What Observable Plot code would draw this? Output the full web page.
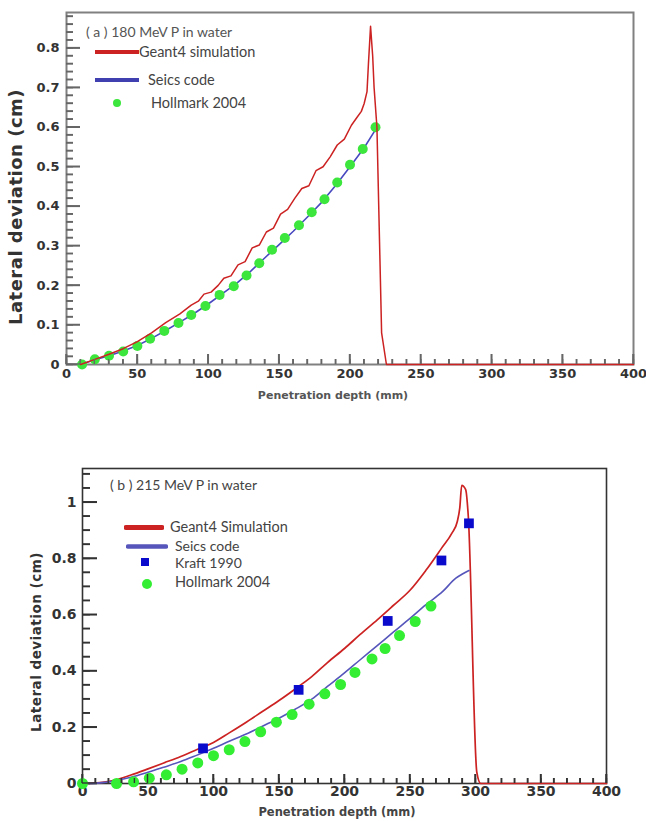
<!DOCTYPE html>
<html><head><meta charset="utf-8">
<script src="https://cdn.jsdelivr.net/npm/d3@7"></script>
<script src="https://cdn.jsdelivr.net/npm/@observablehq/plot@0.6"></script>
<style>
body{margin:0;background:#fff;width:646px;height:821px;position:relative;overflow:hidden}
.panel{position:absolute;left:0}
.lab{position:absolute;font-family:"DejaVu Sans";font-weight:bold;white-space:nowrap;line-height:1}
.leg{position:absolute;font-family:Lato;color:#444;white-space:nowrap;line-height:1;transform:translateY(-50%)}
.sw{position:absolute;line-height:0}
.sw svg{display:block}
</style></head><body>
<div id="a" class="panel" style="top:0"></div>
<div id="b" class="panel" style="top:420px"></div>
<script>
// ---------- Panel (a): 180 MeV P in water ----------
const geantA_x = [10,20,30,40,50,60,70,80,88,93,97,102,107,111,116,121,126,131,136,141,146,151,156,161,166,171,176,181,186,191,196,201,205,208,210,212,213,214.5,216,217,219,222.3,225.7,400];
const geantA_y = [0,0.013,0.026,0.04,0.058,0.08,0.106,0.128,0.15,0.16,0.178,0.183,0.2,0.218,0.224,0.252,0.26,0.295,0.302,0.335,0.345,0.38,0.392,0.42,0.445,0.452,0.49,0.5,0.525,0.555,0.57,0.605,0.625,0.64,0.66,0.69,0.76,0.855,0.78,0.7,0.6,0.08,0,0];
const seicsA_x = [10,20,30,40,50,60,70,80,90,100,110,120,130,140,150,160,170,180,190,200,210,218];
const seicsA_y = [0,0.012,0.022,0.034,0.048,0.066,0.086,0.107,0.129,0.153,0.179,0.205,0.236,0.27,0.303,0.337,0.373,0.41,0.453,0.5,0.548,0.594];
const hollA_x = [11,20,30,40,50,59,69,79,88,98,108,118,127,136,145,154,164,173,182,191,200,209,218];
const hollA_y = [0,0.013,0.022,0.033,0.047,0.065,0.085,0.105,0.125,0.148,0.176,0.198,0.225,0.256,0.29,0.32,0.352,0.385,0.418,0.46,0.505,0.545,0.6];
const yTicksA = [0,0.1,0.2,0.3,0.4,0.5,0.6,0.7,0.8];
const yLabelsA = ["0","0.1","0.2","0.3","0.4","0.5","0.6","0.7","0.8"];

// ---------- Panel (b): 215 MeV P in water ----------
const geantB_x = [5,15,25,37,50,62,75,87,100,112,125,137,150,165,175,187,200,212,225,237,250,262,274,282,286,288,289.5,292.5,294.5,301,304,400];
const geantB_y = [0,0.004,0.012,0.03,0.052,0.073,0.096,0.12,0.146,0.18,0.218,0.255,0.295,0.345,0.38,0.43,0.48,0.53,0.582,0.632,0.687,0.757,0.836,0.89,0.93,0.98,1.06,1.045,0.95,0.04,0,0];
const seicsB_x = [5,15,25,37,50,62,75,87,100,112,125,137,150,162,175,187,200,212,225,237,250,262,275,285,290,295];
const seicsB_y = [0,0.003,0.01,0.022,0.04,0.058,0.078,0.1,0.125,0.15,0.176,0.203,0.232,0.263,0.3,0.345,0.393,0.44,0.49,0.537,0.587,0.635,0.683,0.73,0.745,0.757];
const kraftB_x = [92,165,233,274,295];
const kraftB_y = [0.125,0.333,0.578,0.793,0.925];
const hollB_x = [0,26,39,51,64,76,88,100,112,124,136,148,160,173,185,197,208,221,231,242,254,266];
const hollB_y = [0,0,0.006,0.019,0.031,0.051,0.073,0.099,0.12,0.149,0.184,0.218,0.245,0.282,0.319,0.352,0.395,0.443,0.48,0.526,0.576,0.631];
const yTicksB = [0,0.2,0.4,0.6,0.8,1];
const yLabelsB = ["0","0.2","0.4","0.6","0.8","1"];

const xTicks = [0,50,100,150,200,250,300,350,400];
const xLabels = ["0","50","100","150","200","250","300","350","400"];

const pts = (xs, ys) => xs.map((x, i) => ({x, y: ys[i]}));

function panel(o) {
  const xmax = 400;
  const minorX = d3.range(0, 401, 10);
  const minorY = d3.range(0, o.ymax, o.yminor);
  const blank = () => "";
  const svg = Plot.plot({
    width: o.width, height: o.height,
    marginLeft: o.ml, marginRight: o.mr, marginTop: o.mt, marginBottom: o.mb,
    style: {fontFamily: "DejaVu Sans", fontWeight: "bold", fontSize: o.fontSize, color: "#333", background: "#fff"},
    x: {domain: [0, xmax]},
    y: {domain: [0, o.ymax]},
    marks: [
      Plot.frame({stroke: o.frameColor, strokeWidth: o.frameWidth}),
      Plot.axisX(minorX, {tickSize: o.xminLen, dy: -o.xminLen, tickFormat: blank, label: null, stroke: o.tickColor, strokeWidth: 1.4}),
      Plot.axisX(xTicks, {tickSize: o.xmajLen, dy: -o.xmajLen, tickFormat: blank, label: null, stroke: o.tickColor, strokeWidth: 1.6}),
      Plot.axisY(minorY, {tickSize: o.yminLen, dx: o.yminLen, tickFormat: blank, label: null, stroke: o.tickColor, strokeWidth: 1.4}),
      Plot.axisY(o.yTicks, {tickSize: o.ymajLen, dx: o.ymajLen, tickFormat: blank, label: null, stroke: o.tickColor, strokeWidth: 1.6}),
      Plot.axisX(xTicks, {tickSize: 0, tickPadding: o.xpad, tickFormat: (d, i) => xLabels[i], label: null, fill: "#333"}),
      Plot.axisY(o.yTicks, {tickSize: 0, tickPadding: o.ypad, tickFormat: (d, i) => o.yLabels[i], label: null, fill: "#333"}),
      ...o.marks
    ]
  });
  // extra inward tick lines placed through the plot's own scales
  try {
    const sx = svg.scale("x"), sy = svg.scale("y");
    const g = d3.select(svg).append("g").attr("stroke", o.tickColor).attr("fill", "none");
    const y0 = sy.apply(0), x0 = sx.apply(0);
    for (const v of minorX) {
      const len = xTicks.includes(v) ? o.xmajLen : o.xminLen;
      g.append("line").attr("x1", sx.apply(v)).attr("x2", sx.apply(v)).attr("y1", y0).attr("y2", y0 - len).attr("stroke-width", 1.4);
    }
    for (const v of minorY) {
      const len = o.yTicks.some(t => Math.abs(t - v) < 1e-9) ? o.ymajLen : o.yminLen;
      g.append("line").attr("y1", sy.apply(v)).attr("y2", sy.apply(v)).attr("x1", x0).attr("x2", x0 + len).attr("stroke-width", 1.4);
    }
  } catch (e) {}
  return svg;
}

document.getElementById("a").append(panel({
  width: 646, height: 410, ml: 66, mr: 13, mt: 12, mb: 46, ymax: 0.89, yminor: 0.02, fontSize: "13px",
  frameColor: "#808080", frameWidth: 2, tickColor: "#666",
  xminLen: 5, xmajLen: 10, yminLen: 7, ymajLen: 14, xpad: 4, ypad: 7,
  yTicks: yTicksA, yLabels: yLabelsA,
  marks: [
    Plot.line(pts(seicsA_x, seicsA_y), {x: "x", y: "y", stroke: "#4848c0", strokeWidth: 1.6}),
    Plot.dot(pts(hollA_x, hollA_y), {x: "x", y: "y", r: 5, fill: "#3ce63c"}),
    Plot.line(pts(geantA_x, geantA_y), {x: "x", y: "y", stroke: "#cc2222", strokeWidth: 1.5})
  ]
}));

document.getElementById("b").append(panel({
  width: 646, height: 401, ml: 82, mr: 40, mt: 48, mb: 38, ymax: 1.12, yminor: 0.05, fontSize: "14px",
  frameColor: "#333", frameWidth: 1.6, tickColor: "#333",
  xminLen: 5, xmajLen: 9, yminLen: 8, ymajLen: 15, xpad: 3, ypad: 6,
  yTicks: yTicksB, yLabels: yLabelsB,
  marks: [
    Plot.line(pts(geantB_x, geantB_y), {x: "x", y: "y", stroke: "#cc2222", strokeWidth: 1.7, curve: "monotone-x"}),
    Plot.line(pts(seicsB_x, seicsB_y), {x: "x", y: "y", stroke: "#5555bb", strokeWidth: 1.6, curve: "monotone-x"}),
    Plot.dot(pts(hollB_x, hollB_y), {x: "x", y: "y", r: 5.5, fill: "#33ee33"}),
    Plot.dot(pts(kraftB_x, kraftB_y), {x: "x", y: "y", symbol: "square", r: 5.5, fill: "#0a0acc"})
  ]
}));

// ---------- titles and legends (HTML overlay) ----------
function addDiv(cls, text, style) {
  const d = document.createElement("div");
  d.className = cls; d.textContent = text;
  Object.assign(d.style, style);
  document.body.append(d);
  return d;
}
function addSwatch(svg, style) {
  const d = document.createElement("div");
  d.className = "sw"; d.innerHTML = svg;
  Object.assign(d.style, style);
  document.body.append(d);
}
// axis titles
addDiv("lab", "Lateral deviation (cm)", {left: "16px", top: "207px", fontSize: "18px", color: "#333", transform: "translate(-50%,-50%) rotate(-90deg)", letterSpacing: "0.5px"});
addDiv("lab", "Penetration depth (mm)", {left: "333px", top: "395px", fontSize: "11px", color: "#555", transform: "translate(-50%,-50%)"});
addDiv("lab", "Lateral deviation (cm)", {left: "37px", top: "642px", fontSize: "13.5px", color: "#333", transform: "translate(-50%,-50%) rotate(-90deg)", letterSpacing: "0.5px"});
addDiv("lab", "Penetration depth (mm)", {left: "337px", top: "813px", fontSize: "11.5px", color: "#444", transform: "translate(-50%,-50%)"});

// legend (a)
addDiv("leg", "( a ) 180 MeV P in water", {left: "86px", top: "32px", fontSize: "14px", color: "#555"});
addSwatch('<svg width="44" height="6"><line x1="0" y1="3" x2="44" y2="3" stroke="#cc2222" stroke-width="4"/></svg>', {left: "95px", top: "49px"});
addDiv("leg", "Geant4 simulation", {left: "139px", top: "52px", fontSize: "14.5px"});
addSwatch('<svg width="44" height="6"><line x1="0" y1="3" x2="44" y2="3" stroke="#4040b0" stroke-width="4"/></svg>', {left: "95px", top: "77px"});
addDiv("leg", "Seics code", {left: "148px", top: "80px", fontSize: "14.5px"});
addSwatch('<svg width="10" height="10"><circle cx="5" cy="5" r="4" fill="#3ce63c"/></svg>', {left: "112px", top: "98px"});
addDiv("leg", "Hollmark 2004", {left: "151px", top: "103px", fontSize: "14.5px"});

// legend (b)
addDiv("leg", "( b ) 215 MeV P in water", {left: "110px", top: "485px", fontSize: "14px", color: "#444"});
addSwatch('<svg width="40" height="7"><line x1="2" y1="3.5" x2="38" y2="3.5" stroke="#cc2222" stroke-width="5" stroke-linecap="round"/></svg>', {left: "124px", top: "524px"});
addDiv("leg", "Geant4 Simulation", {left: "170px", top: "527px", fontSize: "14.5px"});
addSwatch('<svg width="42" height="7"><line x1="2" y1="3.5" x2="40" y2="3.5" stroke="#5555bb" stroke-width="4.5" stroke-linecap="round"/></svg>', {left: "126px", top: "543px"});
addDiv("leg", "Seics code", {left: "175px", top: "546px", fontSize: "14px"});
addSwatch('<svg width="10" height="10"><rect x="1" y="1" width="8" height="8" fill="#0a0acc"/></svg>', {left: "140px", top: "557px"});
addDiv("leg", "Kraft 1990", {left: "175px", top: "563px", fontSize: "14px"});
addSwatch('<svg width="12" height="12"><circle cx="6" cy="6" r="5" fill="#33ee33"/></svg>', {left: "141px", top: "578px"});
addDiv("leg", "Hollmark 2004", {left: "175px", top: "582px", fontSize: "14.5px"});
</script>
</body></html>
